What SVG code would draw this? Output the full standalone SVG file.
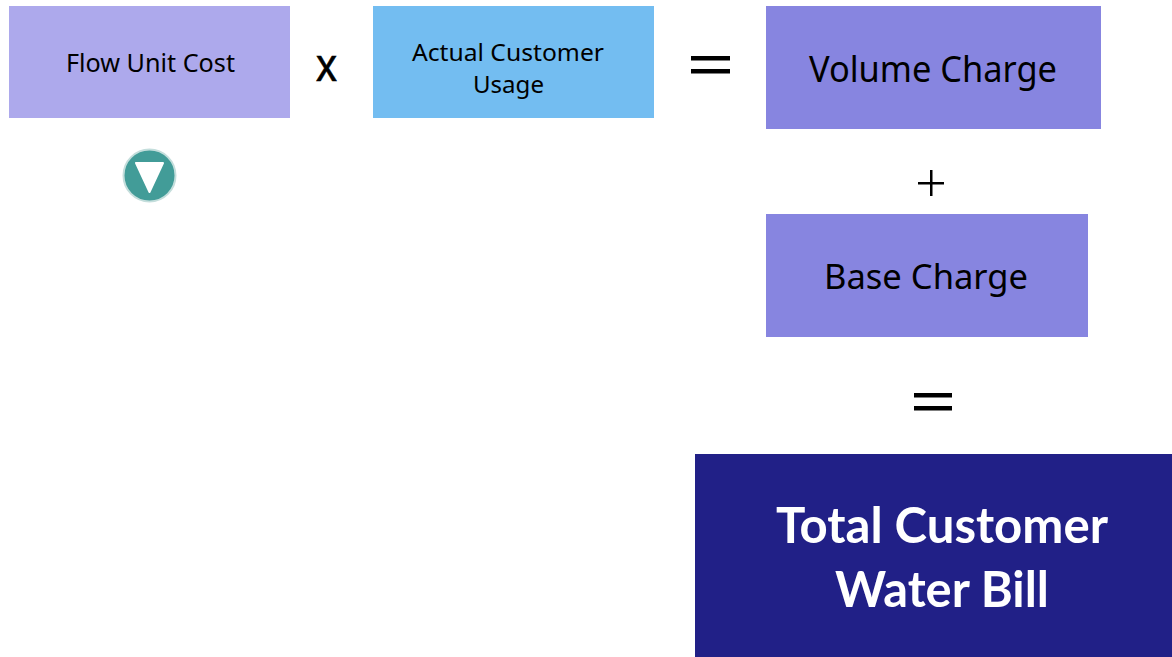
<svg xmlns="http://www.w3.org/2000/svg" width="1172" height="657" viewBox="0 0 1172 657">
<style>
text{font-family:"Noto Sans","DejaVu Sans",sans-serif;text-anchor:middle;fill:#000}
.op{font-family:"Liberation Sans",sans-serif}
.bar{fill:#000}
.total{fill:#fff;font-family:Lato,"Open Sans",sans-serif;font-weight:700;font-size:49px}
</style>
<rect width="1172" height="657" fill="#fff"/>
<g id="flow-unit-cost"><rect x="9" y="6" width="281" height="112" fill="#ada9ec"/><text x="150.500" y="72" font-size="26" textLength="169" lengthAdjust="spacingAndGlyphs">Flow Unit Cost</text></g>
<g id="times"><text class="op" x="326.500" y="81" font-size="46" stroke="#000" stroke-width="0.600" textLength="21" lengthAdjust="spacingAndGlyphs">x</text></g>
<g id="actual-usage"><rect x="373" y="6" width="281" height="112" fill="#73bdf1"/><text x="508" y="61" font-size="24" textLength="192" lengthAdjust="spacingAndGlyphs">Actual Customer</text><text x="508.500" y="93" font-size="24" textLength="71" lengthAdjust="spacingAndGlyphs">Usage</text></g>
<g id="equals-1"><rect class="bar" x="691" y="56" width="39" height="4.500"/><rect class="bar" x="691" y="69" width="39" height="4.500"/></g>
<g id="volume-charge"><rect x="766" y="6" width="335" height="123" fill="#8785e0"/><text x="933" y="82" font-size="37" textLength="248" lengthAdjust="spacingAndGlyphs">Volume Charge</text></g>
<g id="plus"><rect class="bar" x="918" y="182" width="26" height="2.500"/><rect class="bar" x="930" y="170" width="2.500" height="26"/></g>
<g id="base-charge"><rect x="766" y="214" width="322" height="123" fill="#8785e0"/><text x="926" y="289" font-size="35" textLength="204" lengthAdjust="spacingAndGlyphs">Base Charge</text></g>
<g id="equals-2"><rect class="bar" x="914" y="393" width="38" height="4.500"/><rect class="bar" x="914" y="406" width="38" height="4.500"/></g>
<g id="total-bill"><rect x="695" y="454" width="477" height="203" fill="#212087"/><text class="total" x="942" y="543" textLength="332" lengthAdjust="spacingAndGlyphs">Total Customer</text><text class="total" x="942" y="607" textLength="214" lengthAdjust="spacingAndGlyphs">Water Bill</text></g>
<g id="marker"><circle cx="149.500" cy="175.500" r="26" fill="#429c98" stroke="#c4dedc" stroke-width="2"/><polygon points="136,163 163,163 149.500,192" fill="#fff" stroke="#fff" stroke-width="2" stroke-linejoin="round"/></g>
<g id="connectors"></g>
</svg>
